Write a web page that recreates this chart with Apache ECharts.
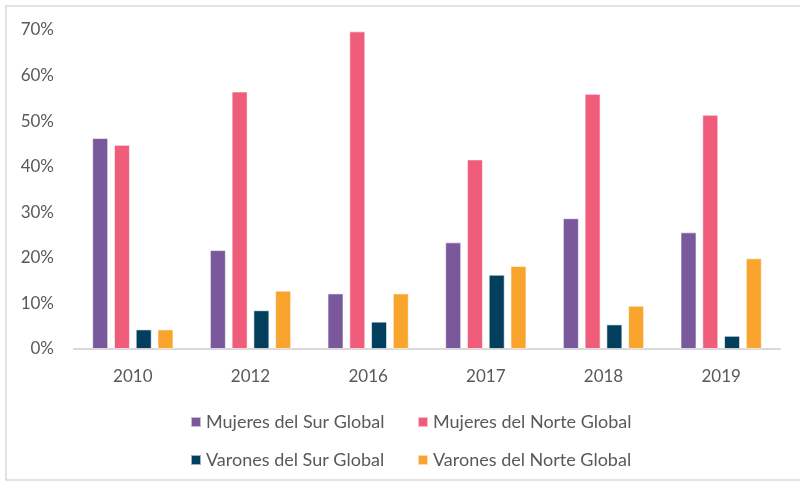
<!DOCTYPE html>
<html>
<head>
<meta charset="utf-8">
<script src="https://cdn.jsdelivr.net/npm/echarts@6/dist/echarts.min.js"></script>
<style>
  html, body { margin: 0; padding: 0; background: #fff; }
  #chart { width: 800px; height: 484px; }
</style>
</head>
<body>
<div id="chart"></div>
<script>
"use strict";
// datos (%)
var years = ["2010", "2012", "2016", "2017", "2018", "2019"];
var mujeresSur = [46.3, 21.7, 12.2, 23.4, 28.7, 25.6];
var mujeresNorte = [44.8, 56.5, 69.7, 41.6, 56.0, 51.4];
var varonesSur = [4.3, 8.5, 6.0, 16.3, 5.4, 2.9];
var varonesNorte = [4.3, 12.8, 12.2, 18.2, 9.5, 19.9];
var yTicks = [0, 10, 20, 30, 40, 50, 60, 70];

var names = ["Mujeres del Sur Global", "Mujeres del Norte Global", "Varones del Sur Global", "Varones del Norte Global"];
var colors = ["#79589c", "#ef5d7b", "#013f5c", "#f8a42d"];
var values = [mujeresSur, mujeresNorte, varonesSur, varonesNorte];

var font = "Lato, 'Open Sans', sans-serif";
var textColor = "#595959";

// una leyenda por elemento para fijar la posición
var legendPos = [[185, 408], [412, 408], [185, 446], [412, 446]];
var legends = names.map(function (n, i) {
    return {
        data: [n],
        left: legendPos[i][0],
        top: legendPos[i][1],
        icon: "rect",
        itemWidth: 10,
        itemHeight: 10,
        itemGap: 4,
        textStyle: {fontFamily: font, fontSize: 18, color: textColor}
    };
});

var series = names.map(function (n, i) {
    return {
        name: n,
        type: "bar",
        barWidth: 16,
        barGap: "36%",
        itemStyle: {color: colors[i], borderColor: "rgba(255,255,255,0.6)", borderWidth: 1},
        data: values[i]
    };
});

var chart = echarts.init(document.getElementById("chart"));
chart.setOption({
    animation: false,
    backgroundColor: "#fff",
    graphic: [{
        type: "rect",
        shape: {x: 6, y: 6, width: 800, height: 474},
        style: {fill: "none", stroke: "#d9d9d9", lineWidth: 1.5},
        silent: true
    }],
    legend: legends,
    grid: {left: 74, right: 20, top: 30, bottom: 135},
    xAxis: {
        type: "category",
        data: years,
        axisTick: {show: false},
        axisLine: {lineStyle: {color: "#d9d9d9", width: 2}},
        axisLabel: {fontFamily: font, fontSize: 17, color: textColor, margin: 19}
    },
    yAxis: {
        type: "value",
        min: yTicks[0],
        max: yTicks[yTicks.length - 1],
        interval: 10,
        splitLine: {show: false},
        axisLine: {show: false},
        axisTick: {show: false},
        axisLabel: {
            fontFamily: font, fontSize: 17, color: textColor, margin: 20,
            formatter: function (v) { return v + "%"; }
        }
    },
    series: series
});
</script>
</body>
</html>
